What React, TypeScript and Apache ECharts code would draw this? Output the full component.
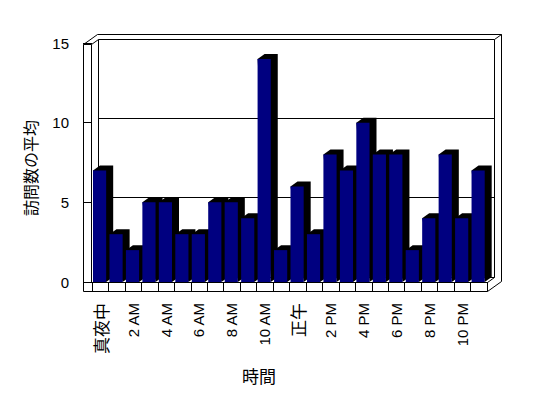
import React, { useEffect, useRef } from "react";
import * as echarts from "echarts";

const categories = [
  "真夜中", "1 AM", "2 AM", "3 AM", "4 AM", "5 AM", "6 AM", "7 AM", "8 AM", "9 AM", "10 AM", "11 AM",
  "正午", "1 PM", "2 PM", "3 PM", "4 PM", "5 PM", "6 PM", "7 PM", "8 PM", "9 PM", "10 PM", "11 PM",
];
const visits = [7, 3, 2, 5, 5, 3, 3, 5, 5, 4, 14, 2, 6, 3, 8, 7, 10, 8, 8, 2, 4, 8, 4, 7];
const yMin = 0;
const yMax = 15;
const yStep = 5;
const backGridValues = [5, 10];
const xTitle = "時間";
const yTitle = "訪問数の平均";

// layout (pixels)
const GL = 92, GR = 487, GT = 43, GB = 282;
const DX = 7, DY = -5; // depth of bars / inner wall
const OX = 14, OY = -10; // outer wall thickness depth

const LATIN = "'Liberation Sans', Arial, sans-serif";
const CJK = "'Noto Sans CJK JP', sans-serif";

function seg(points: number[][]) {
  return {
    type: "polyline",
    shape: { points },
    style: { stroke: "#000", lineWidth: 1, fill: null },
    silent: true,
  };
}

export default function App() {
  const ref = useRef<HTMLDivElement>(null);
  useEffect(() => {
    document.body.style.margin = "0";
    const chart = echarts.init(ref.current!, null, { renderer: "svg" });
    const option: any = {
      animation: false,
      backgroundColor: "#fff",
      grid: { left: GL, right: 548 - GR, top: GT, bottom: 398 - GB },
      xAxis: {
        type: "category",
        data: categories,
        axisLine: { show: true, lineStyle: { color: "#000", width: 1 } },
        axisTick: { show: true, interval: 0, length: 9, lineStyle: { color: "#000" } },
        axisLabel: {
          interval: 1,
          rotate: 90,
          margin: 21,
          fontSize: 15,
          color: "#000",
          fontFamily: LATIN,
          formatter: (v: string) => (/[^\x00-\x7F]/.test(v) ? `{c|${v}}` : v),
          rich: { c: { fontSize: 17, fontFamily: CJK, color: "#000" } },
        },
        splitLine: { show: false },
      },
      yAxis: {
        type: "value",
        min: yMin,
        max: yMax,
        interval: yStep,
        axisLine: { show: false },
        axisTick: { show: true, length: 9, lineStyle: { color: "#000" } },
        axisLabel: { fontSize: 15, color: "#000", margin: 23, fontFamily: LATIN },
        splitLine: { show: false },
      },
      graphic: [
        {
          type: "text",
          x: 30,
          y: 168,
          rotation: Math.PI / 2,
          style: { text: yTitle, fontSize: 16, fontFamily: CJK, fill: "#000", textAlign: "center", textVerticalAlign: "middle" },
        },
        {
          type: "text",
          x: 259,
          y: 375,
          style: { text: xTitle, fontSize: 17, fontFamily: CJK, fill: "#000", textAlign: "center", textVerticalAlign: "middle" },
        },
      ],
      series: [
        {
          type: "custom",
          z: 1,
          clip: false,
          silent: true,
          data: [[0, 0]],
          renderItem: (params: any, api: any) => {
            const cs = params.coordSys;
            const x0 = Math.round(cs.x) - 0.5;
            const x1 = Math.round(cs.x + cs.width) + 0.5;
            const yB = Math.round(cs.y + cs.height) + 0.5;
            const yT = Math.round(cs.y) + 0.5;
            const oL = x0 - 8; // outer left
            const wallTop = yT + 1;
            const floorBot = yB + 9;
            const backTop = yT - 4;
            const children: any[] = [
              // left wall + floor front outline
              seg([[oL, wallTop], [oL, floorBot], [x1, floorBot], [x1, yB]]),
              seg([[oL, wallTop], [x0, wallTop], [x0, yB]]),
              // outer depth edges
              seg([[oL, wallTop], [oL + OX, wallTop + OY], [x1 + OX, wallTop + OY], [x1 + OX, floorBot + OY], [x1, floorBot]]),
              // inner back wall
              seg([[x0, wallTop], [x0 + DX, backTop], [x1 + DX, backTop], [x1 + OX, wallTop + OY]]),
              seg([[x0 + DX, backTop], [x0 + DX, yB + DY], [x1 + DX, yB + DY], [x1 + DX, backTop]]),
              seg([[x1, yB], [x1 + DX, yB + DY]]),
            ];
            backGridValues.forEach((v) => {
              const y = Math.round(api.coord([0, v])[1] + DY) + 0.5;
              children.push(seg([[x0 + DX, y], [x1 + DX, y]]));
            });
            return { type: "group", children };
          },
        },
        {
          type: "custom",
          z: 2,
          clip: false,
          data: visits.map((v, i) => [i, v]),
          encode: { x: 0, y: 1 },
          renderItem: (params: any, api: any) => {
            const i = api.value(0);
            const v = api.value(1);
            const base = api.coord([i, 0]);
            const top = api.coord([i, v]);
            const bw = api.size([1, 0])[0];
            const xl = base[0] - bw / 2 + 1;
            const xr = xl + bw * 0.8;
            const yb = base[1];
            const yt = top[1];
            return {
              type: "group",
              children: [
                {
                  type: "polygon",
                  shape: { points: [[xl, yt], [xl + DX, yt + DY], [xr + DX, yt + DY], [xr + DX, yb + DY], [xr, yb]] },
                  style: { fill: "#000" },
                },
                {
                  type: "rect",
                  shape: { x: xl, y: yt, width: xr - xl, height: yb - yt },
                  style: { fill: "#000080" },
                },
              ],
            };
          },
        },
      ],
    };
    chart.setOption(option);
    return () => chart.dispose();
  }, []);
  return <div ref={ref} style={{ width: 548, height: 398 }} />;
}
